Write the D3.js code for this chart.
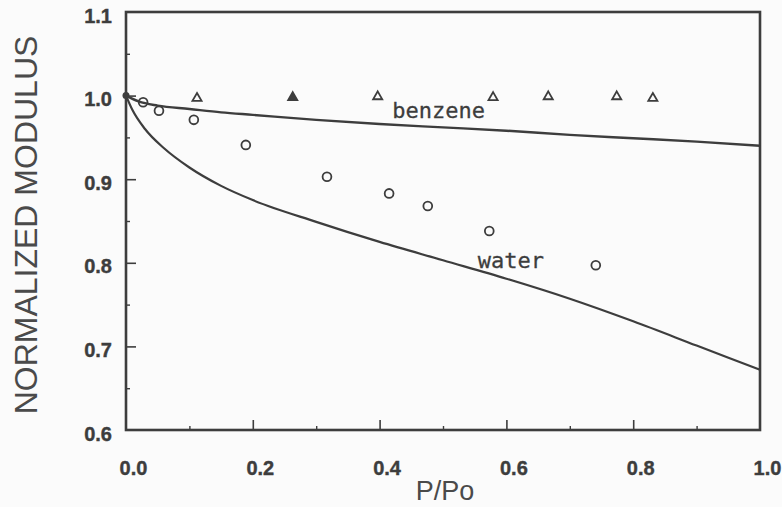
<!DOCTYPE html>
<html><head><meta charset="utf-8">
<script src="https://cdn.jsdelivr.net/npm/d3@7"></script>
<style>html,body{margin:0;padding:0;background:#fbfbfb;}svg{display:block;}</style>
</head><body>
<svg id="chart" width="782" height="507"></svg>
<script>
// ---- data ----
const xTicksMajor = [0.0, 0.2, 0.4, 0.6, 0.8, 1.0];
const xTicksMinor = [0.1, 0.3, 0.5, 0.7, 0.9];
const yTicksMajor = [0.6, 0.7, 0.8, 0.9, 1.0, 1.1];
const yTicksMinor = [0.65, 0.75, 0.85, 0.95, 1.05];

const benzeneX = [0.112, 0.263, 0.397, 0.579, 0.666, 0.774, 0.831];
const benzeneY = [0.998, 0.999, 1.000, 0.999, 1.000, 1.000, 0.998];
const benzeneFilled = [false, true, false, false, false, false, false];

const waterX = [0.027, 0.052, 0.107, 0.189, 0.317, 0.415, 0.476, 0.573, 0.741];
const waterY = [0.992, 0.982, 0.971, 0.941, 0.903, 0.883, 0.868, 0.838, 0.797];

const originX = [0.0];
const originY = [1.0];

const benzeneLineX = [0, 0.02, 0.05, 0.1, 0.15, 0.2, 0.3, 0.4, 0.5, 0.6, 0.7, 0.8, 0.9, 1.0];
const benzeneLineY = [1.0, 0.993, 0.988, 0.984, 0.980, 0.977, 0.971, 0.966, 0.962, 0.958, 0.953, 0.949, 0.945, 0.940];

const waterLineX = [0, 0.01, 0.03, 0.06, 0.1, 0.15, 0.2, 0.3, 0.4, 0.5, 0.6, 0.7, 0.8, 0.9, 1.0];
const waterLineY = [1.0, 0.983, 0.960, 0.937, 0.914, 0.892, 0.875, 0.849, 0.825, 0.803, 0.781, 0.757, 0.730, 0.701, 0.672];

const curveLabels = ["benzene", "water"];
const curveLabelX = [0.42, 0.555];
const curveLabelY = [0.973, 0.794];

const xTitle = "P/Po";
const yTitle = "NORMALIZED MODULUS";

// ---- drawing ----
const ink = "#3d3d3d";
const svg = d3.select("#chart");
const L = 126, R = 760, T = 12, B = 430;
const x = d3.scaleLinear().domain([0, 1]).range([L, R]);
const y = d3.scaleLinear().domain([0.6, 1.1]).range([B, T]);
const sans = "Arial, 'Liberation Sans', sans-serif";

// frame
svg.append("rect").attr("x", L).attr("y", T).attr("width", R - L).attr("height", B - T)
  .attr("fill", "none").attr("stroke", ink).attr("stroke-width", 2.6);

// bottom axis (inward ticks)
const gx = svg.append("g").attr("transform", `translate(0,${B})`);
gx.call(d3.axisBottom(x).tickValues(xTicksMajor).tickSize(-10).tickFormat(d3.format(".1f")).tickPadding(31));
gx.select(".domain").remove();
gx.selectAll(".tick line").attr("stroke", ink).attr("stroke-width", 1.6)
  .filter(d => d === 0 || d === 1).remove();
gx.selectAll(".tick text").attr("fill", ink).attr("font-family", sans)
  .attr("font-weight", "bold").attr("font-size", 20).attr("dx", 7)
  .attr("stroke", ink).attr("stroke-width", 0.4);
const gx2 = svg.append("g").attr("transform", `translate(0,${B})`);
gx2.call(d3.axisBottom(x).tickValues(xTicksMinor).tickSize(-4).tickFormat(""));
gx2.select(".domain").remove();
gx2.selectAll(".tick line").attr("stroke", ink).attr("stroke-width", 1.4);

// left axis (inward ticks)
const gy = svg.append("g").attr("transform", `translate(${L},0)`);
gy.call(d3.axisLeft(y).tickValues(yTicksMajor).tickSize(-10).tickFormat(d3.format(".1f")).tickPadding(14));
gy.select(".domain").remove();
gy.selectAll(".tick line").attr("stroke", ink).attr("stroke-width", 1.6)
  .filter(d => d === 0.6 || d === 1.1).remove();
gy.selectAll(".tick text").attr("fill", ink).attr("font-family", sans)
  .attr("font-weight", "bold").attr("font-size", 20).attr("dy", "0.5em")
  .attr("stroke", ink).attr("stroke-width", 0.4);
const gy2 = svg.append("g").attr("transform", `translate(${L},0)`);
gy2.call(d3.axisLeft(y).tickValues(yTicksMinor).tickSize(-4).tickFormat(""));
gy2.select(".domain").remove();
gy2.selectAll(".tick line").attr("stroke", ink).attr("stroke-width", 1.4);

// curves
const line = d3.line().x(d => x(d[0])).y(d => y(d[1])).curve(d3.curveMonotoneX);
svg.append("path").datum(benzeneLineX.map((v, i) => [v, benzeneLineY[i]]))
  .attr("d", line).attr("fill", "none").attr("stroke", ink).attr("stroke-width", 2.4);
svg.append("path").datum(waterLineX.map((v, i) => [v, waterLineY[i]]))
  .attr("d", line).attr("fill", "none").attr("stroke", ink).attr("stroke-width", 2.2);

// water points (open circles)
svg.append("g").selectAll("circle").data(waterX.map((v, i) => [v, waterY[i]])).join("circle")
  .attr("cx", d => x(d[0])).attr("cy", d => y(d[1])).attr("r", 4.4)
  .attr("fill", "none").attr("stroke", ink).attr("stroke-width", 1.8);

// origin point
svg.append("g").selectAll("circle").data(originX.map((v, i) => [v, originY[i]])).join("circle")
  .attr("cx", d => x(d[0])).attr("cy", d => y(d[1])).attr("r", 3.5).attr("fill", ink);

// benzene points (triangles)
const tri = d3.symbol().type(d3.symbolTriangle).size(36);
svg.append("g").selectAll("path").data(benzeneX.map((v, i) => [v, benzeneY[i], benzeneFilled[i]])).join("path")
  .attr("d", tri).attr("transform", d => `translate(${x(d[0])},${y(d[1]) + 1})`)
  .attr("fill", d => d[2] ? ink : "none").attr("stroke", ink).attr("stroke-width", 1.8);

// curve labels
svg.append("g").selectAll("text").data(curveLabels).join("text")
  .attr("x", (d, i) => x(curveLabelX[i])).attr("y", (d, i) => y(curveLabelY[i]))
  .attr("font-family", "'DejaVu Sans Mono', monospace").attr("font-size", 22)
  .attr("fill", ink).attr("stroke", ink).attr("stroke-width", 0.3).text(d => d);

// axis titles
svg.append("text").attr("x", (L + R) / 2 + 2).attr("y", 500).attr("text-anchor", "middle")
  .attr("font-family", sans).attr("font-size", 27)
  .attr("fill", "#4a4a4a").text(xTitle);
svg.append("text").attr("transform", `translate(37,${(T + B) / 2 + 4}) rotate(-90)`)
  .attr("text-anchor", "middle")
  .attr("font-family", sans).attr("font-size", 32)
  .attr("fill", "#4a4a4a").text(yTitle);
</script>
</body></html>
